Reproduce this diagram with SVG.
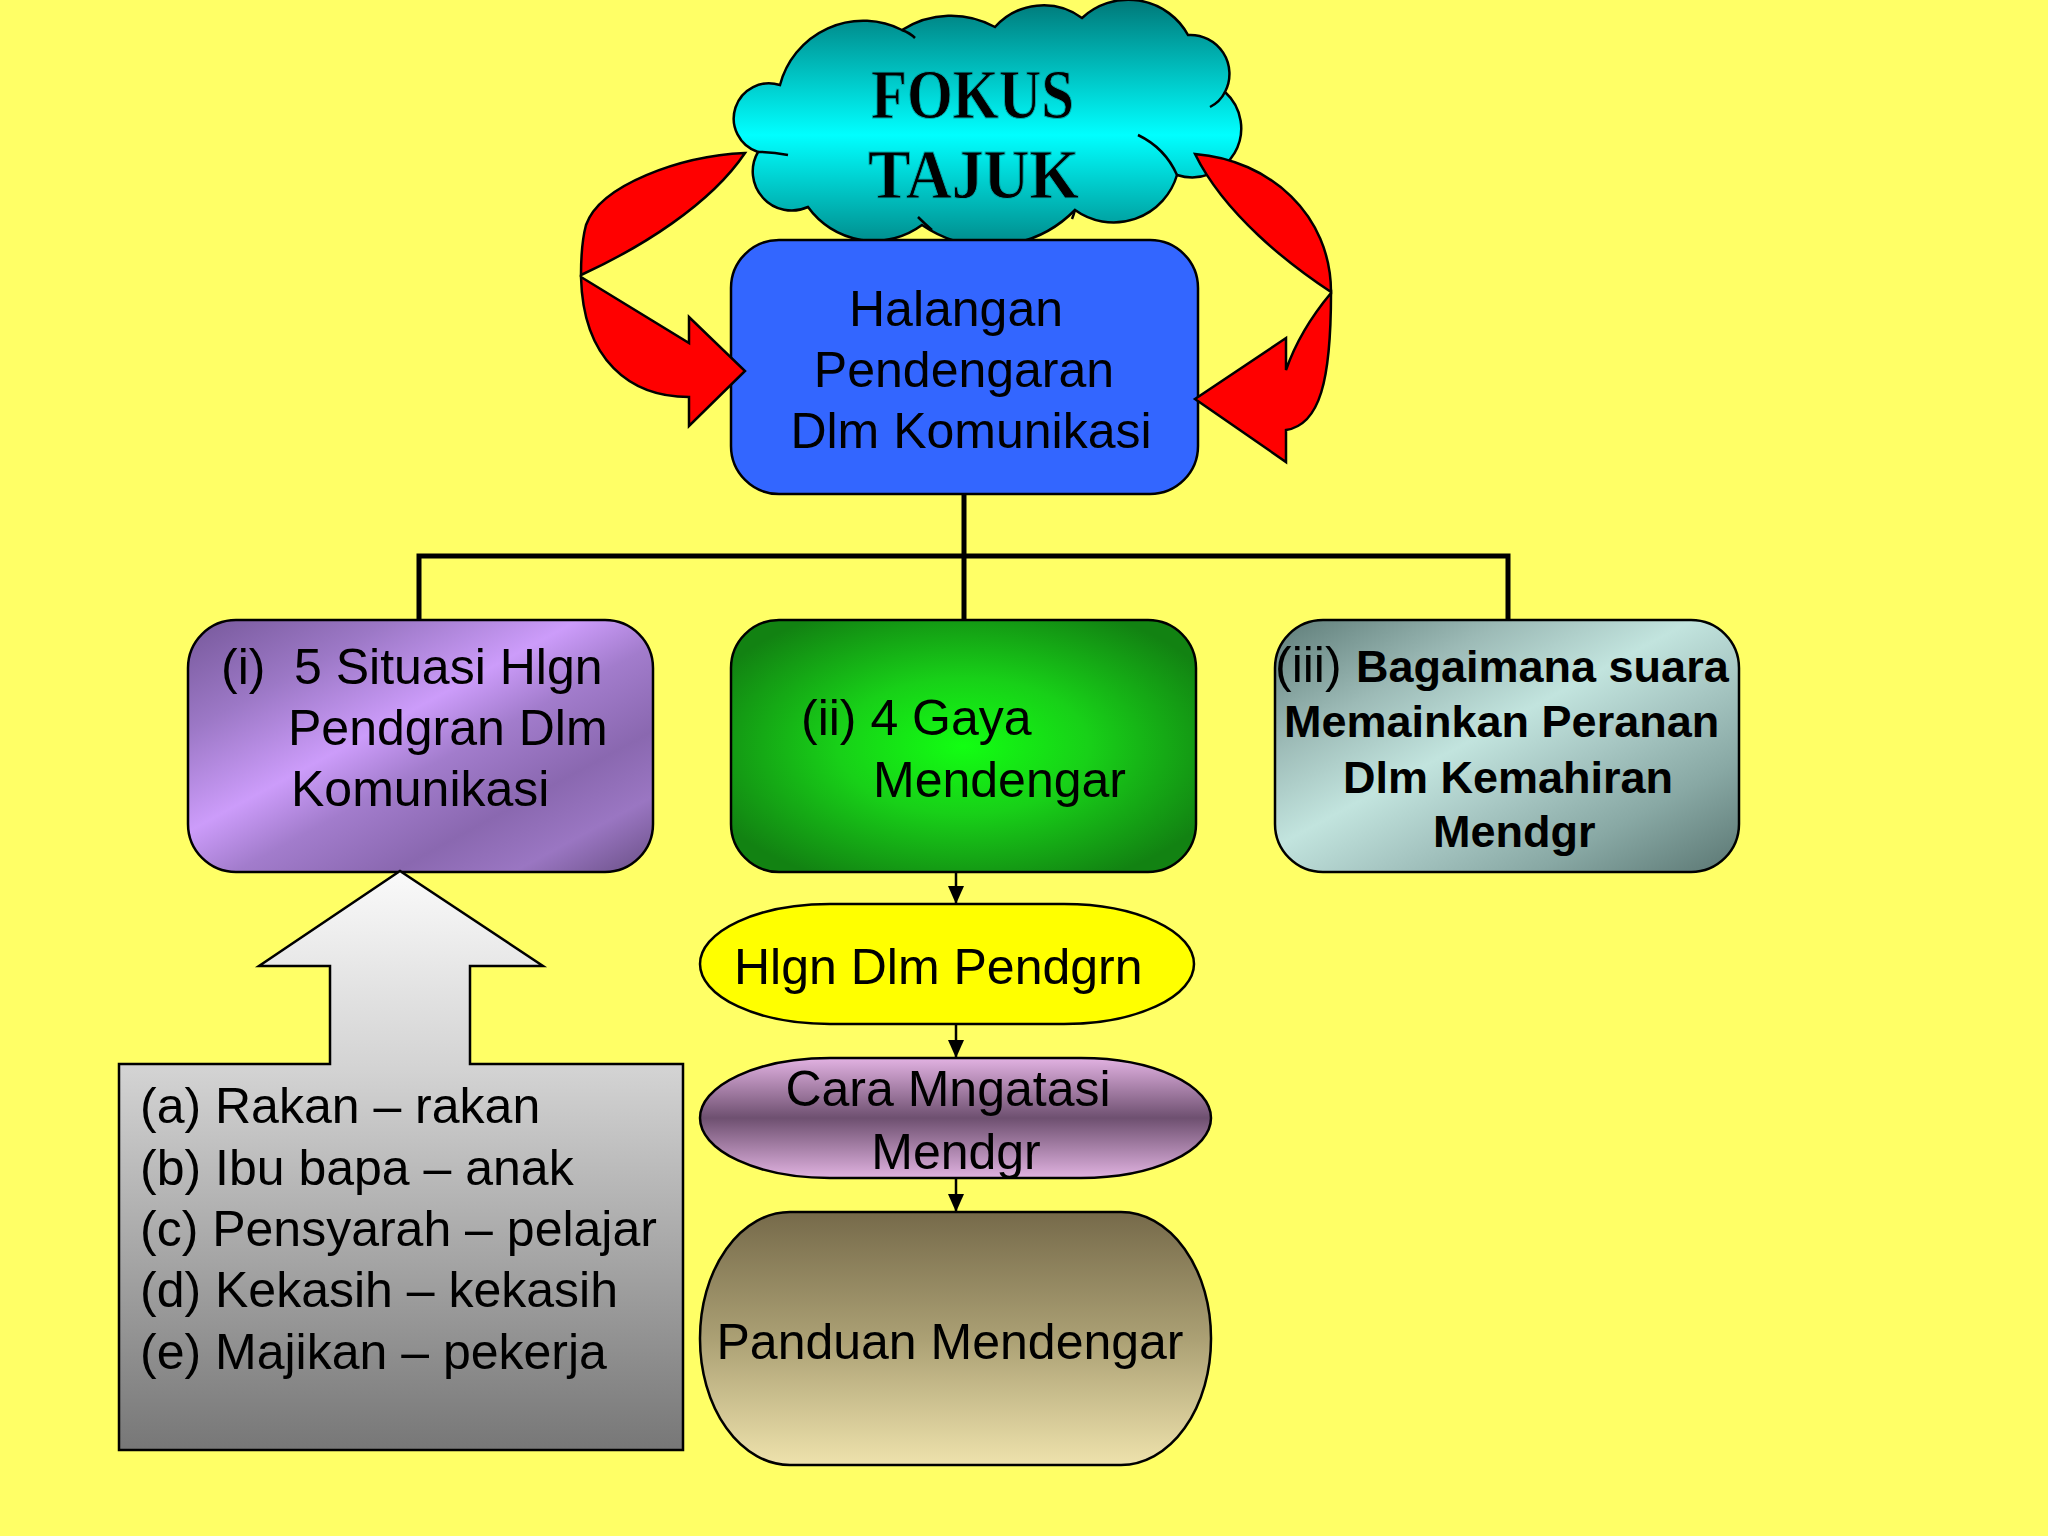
<svg xmlns="http://www.w3.org/2000/svg" width="2048" height="1536" viewBox="0 0 2048 1536">
<defs>
<linearGradient id="gCloud" x1="0" y1="0" x2="0" y2="1">
<stop offset="0" stop-color="#007878"/><stop offset="0.55" stop-color="#00FFFF"/><stop offset="1" stop-color="#008A8A"/>
</linearGradient>
<linearGradient id="gPurple" x1="0" y1="0" x2="1" y2="1">
<stop offset="0" stop-color="#76589A"/><stop offset="0.22" stop-color="#9C78C6"/><stop offset="0.42" stop-color="#CC9CFA"/><stop offset="0.55" stop-color="#A27CCC"/><stop offset="0.72" stop-color="#8A68B0"/><stop offset="0.85" stop-color="#9A76C2"/><stop offset="1" stop-color="#6A5086"/>
</linearGradient>
<radialGradient id="gGreen" cx="0.5" cy="0.5" r="0.6">
<stop offset="0" stop-color="#12FF12"/><stop offset="0.45" stop-color="#18D018"/><stop offset="1" stop-color="#128212"/>
</radialGradient>
<linearGradient id="gSteel" x1="0" y1="0" x2="1" y2="1">
<stop offset="0" stop-color="#5E7C78"/><stop offset="0.25" stop-color="#9CBAB6"/><stop offset="0.45" stop-color="#C2E4DE"/><stop offset="0.6" stop-color="#A8C8C4"/><stop offset="0.78" stop-color="#88A8A4"/><stop offset="1" stop-color="#5A7672"/>
</linearGradient>
<linearGradient id="gMauve" x1="0" y1="0" x2="0" y2="1">
<stop offset="0" stop-color="#E2B2E2"/><stop offset="0.5" stop-color="#6E5070"/><stop offset="1" stop-color="#E0B2E0"/>
</linearGradient>
<linearGradient id="gOlive" x1="0" y1="0" x2="0" y2="1">
<stop offset="0" stop-color="#766A4A"/><stop offset="0.5" stop-color="#ABA074"/><stop offset="1" stop-color="#EEE2AC"/>
</linearGradient>
<linearGradient id="gGrey" gradientUnits="userSpaceOnUse" x1="0" y1="871" x2="0" y2="1450">
<stop offset="0" stop-color="#FAFAFA"/><stop offset="0.35" stop-color="#D2D2D2"/><stop offset="1" stop-color="#777777"/>
</linearGradient>
<marker id="ah" viewBox="0 0 18 16" refX="18" refY="8" markerWidth="18" markerHeight="16" markerUnits="userSpaceOnUse" orient="auto">
<path d="M0,0 L18,8 L0,16 Z" fill="#000"/>
</marker>
<style>
.sh{stroke:#000;stroke-width:2.5}
.t{font-family:"Liberation Sans",Arial,sans-serif;font-size:50px;fill:#000}
.b{font-weight:bold;font-size:45px}
.red{fill:#FF0000;stroke:#000;stroke-width:2.5;stroke-linejoin:miter}
.tree{stroke:#000;stroke-width:5;fill:none}
.arr{stroke:#000;stroke-width:2.5;fill:none}
.ca{stroke:#000;stroke-width:2.5;fill:none}
.ft{font-family:"Liberation Serif",serif;font-weight:bold;font-size:70px;fill:#000;stroke:#00B0B0;stroke-width:1}
</style>
</defs>
<rect width="2048" height="1536" fill="#FFFF66"/>

<g id="connectors">
<path class="tree" d="M964,494 V620 M419,620 V556 H1508 V620"/>
<line class="arr" x1="956" y1="872" x2="956" y2="904" marker-end="url(#ah)"/>
<line class="arr" x1="956" y1="1024" x2="956" y2="1058" marker-end="url(#ah)"/>
<line class="arr" x1="956" y1="1178" x2="956" y2="1212" marker-end="url(#ah)"/>
</g>

<g id="cloud">
<path class="sh" fill="url(#gCloud)" d="M780,85 A86,86 0 0 1 902,30 A91,91 0 0 1 995,27 A65,65 0 0 1 1082,18 A68,68 0 0 1 1188,35 A39,39 0 0 1 1225,92 A49,49 0 0 1 1177,175 A66,66 0 0 1 1075,210 A120,120 0 0 1 922,225 A81,81 0 0 1 808,207 A39,39 0 0 1 758,152 A35,35 0 0 1 780,85 Z"/>
<path class="ca" d="M902,30 Q910,33 915,38 M1225,92 Q1220,102 1210,107 M1138,135 Q1165,148 1177,175 M918,217 Q925,224 932,230 M758,152 Q773,152 788,155 M1075,210 Q1074,214 1072,219"/>
<text class="ft" x="871" y="118" textLength="203" lengthAdjust="spacingAndGlyphs">FOKUS</text>
<text class="ft" x="868" y="198" textLength="211" lengthAdjust="spacingAndGlyphs">TAJUK</text>
</g>

<g id="halangan">
<rect class="sh" x="731" y="240" width="467" height="254" rx="48" fill="#3366FF"/>
<text class="t" text-anchor="middle"><tspan x="956" y="326">Halangan</tspan><tspan x="964" y="387">Pendengaran</tspan><tspan x="971" y="448">Dlm Komunikasi</tspan></text>
</g>

<g id="red-arrow-left">
<path class="red" d="M745,153 C680,156 600,185 586,225 C582,240 581,260 581,275 C640,248 710,205 745,153 Z"/>
<path class="red" d="M581,277 L689,343 L689,317 L745,371 L689,426 L689,397 C630,397 583,360 581,277 Z"/>
</g>

<g id="red-arrow-right">
<path class="red" d="M1195,154 C1270,160 1331,215 1331,292 C1290,265 1225,215 1195,154 Z"/>
<path class="red" d="M1331,293 Q1300,330 1286,370 L1286,338 L1195,399 L1286,462 L1286,430 C1320,425 1331,380 1331,293 Z"/>
</g>

<g id="situasi">
<rect class="sh" x="188" y="620" width="465" height="252" rx="48" fill="url(#gPurple)"/>
<text class="t"><tspan x="221" y="684">(i)</tspan><tspan x="294" y="684">5 Situasi Hlgn</tspan><tspan x="288" y="745">Pendgran Dlm</tspan><tspan x="291" y="806">Komunikasi</tspan></text>
</g>

<g id="gaya">
<rect class="sh" x="731" y="620" width="465" height="252" rx="48" fill="url(#gGreen)"/>
<text class="t"><tspan x="801" y="735">(ii) 4 Gaya</tspan><tspan x="873" y="797">Mendengar</tspan></text>
</g>

<g id="bagaimana">
<rect class="sh" x="1275" y="620" width="464" height="252" rx="48" fill="url(#gSteel)"/>
<text class="t"><tspan x="1275" y="682">(iii)</tspan><tspan class="b" x="1356" y="682">Bagaimana suara</tspan><tspan class="b" x="1284" y="737">Memainkan Peranan</tspan><tspan class="b" x="1343" y="793">Dlm Kemahiran</tspan><tspan class="b" x="1433" y="847">Mendgr</tspan></text>
</g>

<g id="situasi-list">
<path class="sh" fill="url(#gGrey)" d="M119,1064 H330 V966 H259 L400,871 L543,966 H470 V1064 H683 V1450 H119 Z"/>
<text class="t"><tspan x="140" y="1123">(a) Rakan – rakan</tspan><tspan x="140" y="1185">(b) Ibu bapa – anak</tspan><tspan x="140" y="1246">(c) Pensyarah – pelajar</tspan><tspan x="140" y="1307">(d) Kekasih – kekasih</tspan><tspan x="140" y="1369">(e) Majikan – pekerja</tspan></text>
</g>

<g id="hlgn">
<rect class="sh" x="700" y="904" width="494" height="120" rx="130" ry="60" fill="#FFFF00"/>
<text class="t" x="734" y="984">Hlgn Dlm Pendgrn</text>
</g>

<g id="cara">
<rect class="sh" x="700" y="1058" width="511" height="120" rx="130" ry="60" fill="url(#gMauve)"/>
<text class="t" text-anchor="middle"><tspan x="948" y="1106">Cara Mngatasi</tspan><tspan x="956" y="1169">Mendgr</tspan></text>
</g>

<g id="panduan">
<rect class="sh" x="700" y="1212" width="511" height="253" rx="90" ry="126" fill="url(#gOlive)"/>
<text class="t" text-anchor="middle" x="950" y="1359">Panduan Mendengar</text>
</g>
</svg>
